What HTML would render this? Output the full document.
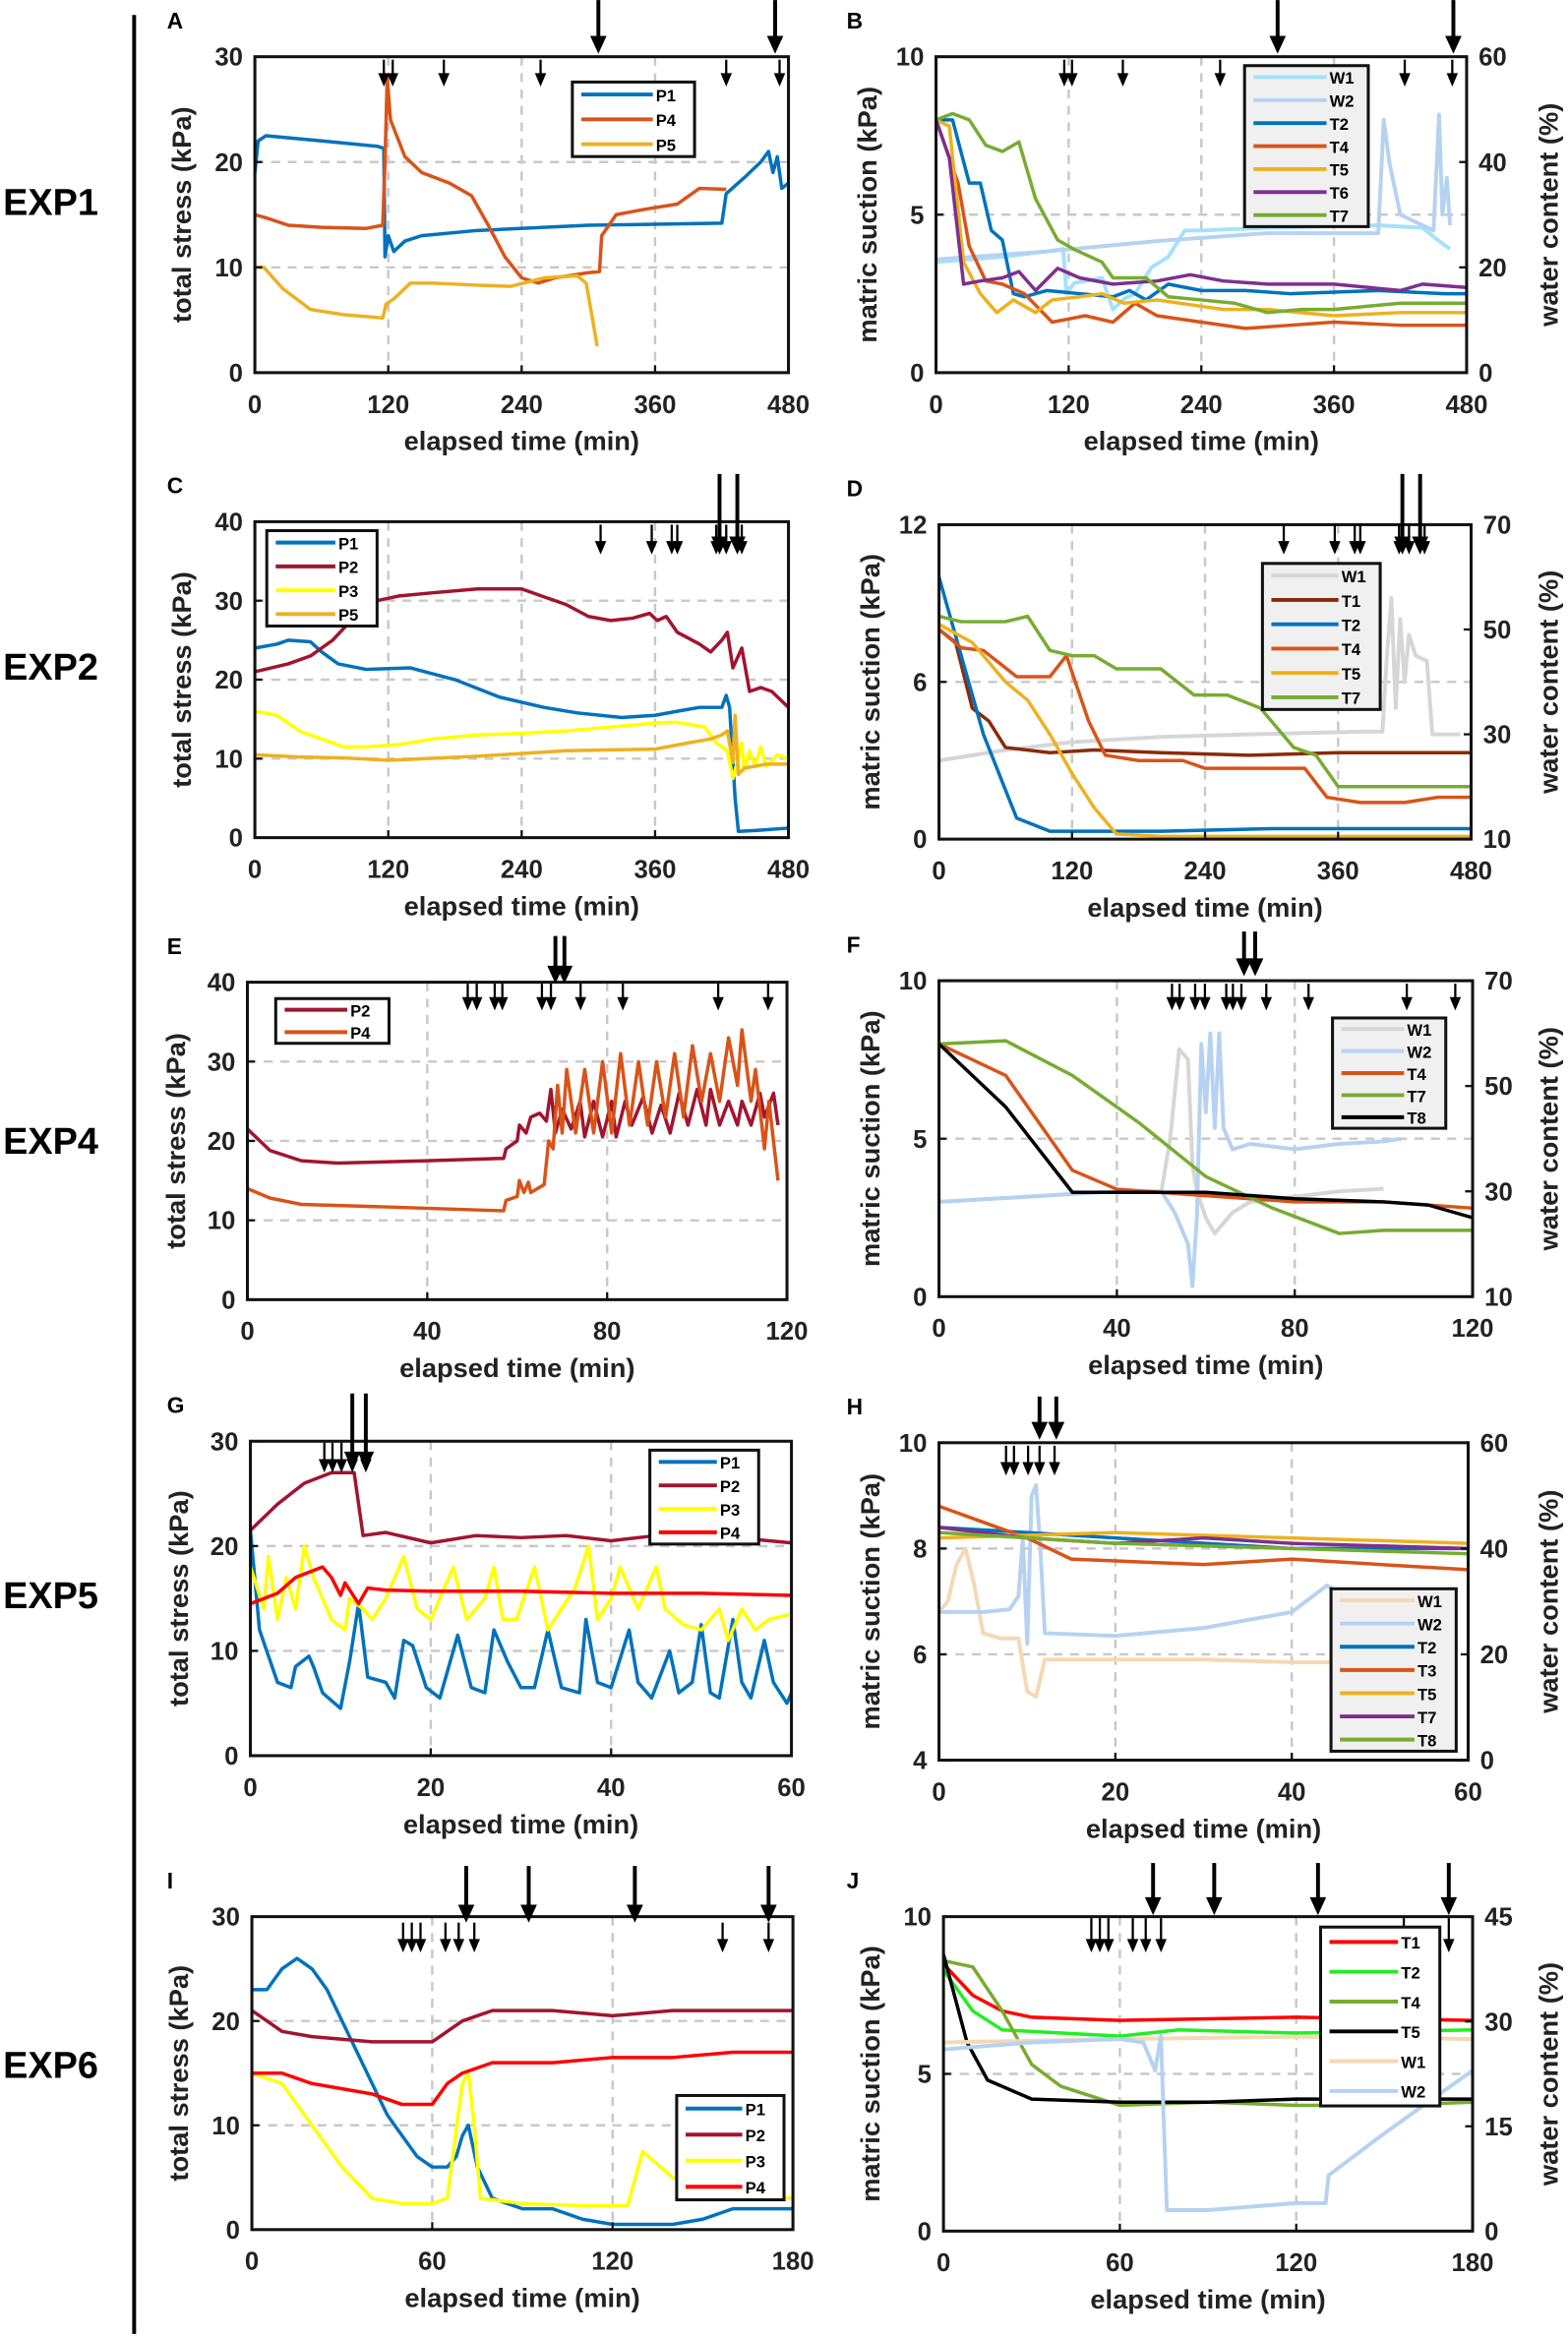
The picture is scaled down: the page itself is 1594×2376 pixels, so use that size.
<!DOCTYPE html>
<html><head><meta charset="utf-8"><style>
html,body{margin:0;padding:0;background:#fff;}
svg{display:block;font-family:"Liberation Sans",Arial,sans-serif;}
</style></head><body>
<svg id="fig" width="1594" height="2376" viewBox="0 0 1052 1568" xmlns="http://www.w3.org/2000/svg">
<line x1="90" y1="10" x2="90" y2="1566" stroke="#000" stroke-width="2.6"/>
<text x="34" y="144" font-size="25" font-weight="bold" text-anchor="middle">EXP1</text>
<text x="34" y="456" font-size="25" font-weight="bold" text-anchor="middle">EXP2</text>
<text x="34" y="774" font-size="25" font-weight="bold" text-anchor="middle">EXP4</text>
<text x="34" y="1079" font-size="25" font-weight="bold" text-anchor="middle">EXP5</text>
<text x="34" y="1394" font-size="25" font-weight="bold" text-anchor="middle">EXP6</text>
</svg>
<script>
// ---------- DATA ----------
// Panel A (EXP1 total stress)
const A_P1=[[0,19],[3,22],[10,22.5],[30,22.3],[60,22],[110,21.5],[116,21.3],[117,11],[120,13],[125,11.5],[135,12.5],[150,13],[200,13.5],[300,14],[420,14.2],[424,17],[440,18.5],[455,20],[462,21],[466,19],[470,20.5],[474,17.5],[480,18]];
const A_P4=[[0,15],[10,14.7],[30,14],[60,13.8],[100,13.7],[115,14],[117,20],[119,28],[122,24],[135,20.5],[150,19],[175,18],[195,16.8],[210,14],[225,11],[240,9],[255,8.5],[270,9],[300,9.5],[310,9.6],[312,13],[325,15],[350,15.5],[380,16],[400,17.5],[424,17.4]];
const A_P5=[[0,10],[8,10],[25,8],[50,6],[80,5.5],[115,5.2],[118,6.5],[125,7],[140,8.5],[160,8.5],[200,8.3],[230,8.2],[260,9],[290,9.2],[298,8.5],[303,5.5],[308,2.5]];
const A_small=[116,124,170,257,424,472];
const A_big=[309,468];
// Panel B (EXP1 suction / water content)
const B_W1=[[0,21],[60,22],[100,23],[115,23.5],[118,15],[125,17],[150,18],[160,12],[170,14],[180,15],[195,20],[210,22],[225,27],[240,27],[300,27.5],[360,27.8],[400,28],[440,27.5],[455,25],[465,23.5]];
const B_W2=[[0,21.5],[100,23],[200,25],[300,26.5],[400,26.5],[405,48],[410,40],[420,30],[440,28],[450,27],[455,49],[458,30],[462,37],[465,28]];
const B_T2=[[0,8],[15,8],[30,6],[40,6],[50,4.5],[60,4.2],[70,2.5],[80,2.4],[100,2.6],[130,2.5],[160,2.4],[175,2.6],[190,2.3],[210,2.8],[240,2.6],[280,2.6],[320,2.5],[400,2.6],[460,2.5],[480,2.5]];
const B_T4=[[0,8],[10,7],[20,6],[30,4],[45,2.9],[60,2.8],[80,2.5],[105,1.6],[120,1.7],[135,1.8],[160,1.6],[180,2.2],[200,1.8],[240,1.6],[280,1.4],[320,1.5],[360,1.6],[420,1.5],[480,1.5]];
const B_T5=[[0,8],[12,7.8],[25,3.5],[40,2.5],[55,1.9],[70,2.3],[90,1.9],[105,2.3],[130,2.4],[150,2.5],[170,2.2],[200,2.3],[260,2],[300,2],[360,1.8],[420,1.9],[480,1.9]];
const B_T6=[[0,8],[12,6.8],[25,2.8],[40,2.9],[60,3],[75,3.2],[90,2.6],[110,3.3],[130,3],[160,2.8],[200,2.9],[230,3.1],[260,2.9],[300,2.8],[360,2.8],[420,2.6],[440,2.8],[480,2.7]];
const B_T7=[[0,8],[15,8.2],[30,8],[45,7.2],[60,7],[75,7.3],[90,5.5],[110,4.2],[125,3.9],[150,3.5],[160,3],[190,3],[210,2.4],[240,2.3],[270,2.2],[300,1.9],[330,2],[360,2],[420,2.2],[480,2.2]];
const B_small=[116,123,169,257,424,467];
const B_big=[309,468];
// Panel C (EXP2 total stress)
const C_P1=[[0,24],[20,24.5],[30,25],[50,24.8],[60,23.5],[75,22],[100,21.3],[140,21.5],[180,20],[220,17.8],[260,16.5],[290,15.8],[330,15.2],[360,15.5],[380,16],[400,16.5],[420,16.5],[424,18],[427,16.5],[432,5],[435,0.8],[450,0.9],[480,1.2]];
const C_P2=[[0,21],[30,22],[50,23],[70,25],[90,28],[110,30],[130,30.6],[160,31],[200,31.5],[240,31.5],[260,30.5],[280,29.5],[300,28],[320,27.5],[340,27.8],[355,28.4],[362,27.5],[370,28],[380,26],[400,24.5],[410,23.5],[420,25],[425,26],[430,21.5],[438,24],[445,18.5],[455,19],[465,18.5],[480,16.5]];
const C_P3=[[0,16],[20,15.5],[40,13.5],[60,12.5],[80,11.5],[100,11.5],[130,11.8],[160,12.5],[200,13],[240,13.2],[280,13.5],[320,14],[360,14.5],[380,14.6],[405,14],[415,12],[425,11],[430,7.5],[435,10],[438,12],[440,8.5],[445,11],[450,9],[455,11.5],[460,9],[470,10.5],[480,10]];
const C_P5=[[0,10.5],[40,10.2],[80,10.1],[120,9.8],[200,10.3],[280,11],[360,11.2],[390,12],[410,12.5],[420,13],[425,13.5],[430,9.5],[432,15.5],[435,8],[440,8.8],[460,9.3],[480,9.3]];
const C_small=[311,357,375,380,415,424,438];
const C_big=[418,434];
// Panel D (EXP2 suction / water content)
const D_W1=[[0,25],[60,27],[120,28.5],[200,29.5],[280,30],[380,30.5],[400,30.5],[404,45],[408,56],[412,35],[416,52],[420,40],[424,49],[430,45],[440,44],[445,30],[460,30],[470,30]];
const D_T1=[[0,8],[15,7.5],[30,5],[45,4.5],[60,3.5],[100,3.3],[140,3.4],[200,3.3],[280,3.2],[360,3.3],[420,3.3],[480,3.3]];
const D_T2=[[0,10],[20,7],[40,4],[70,0.8],[100,0.3],[120,0.3],[200,0.3],[300,0.4],[400,0.4],[480,0.4]];
const D_T4=[[0,8],[20,7.3],[40,7.2],[70,6.2],[100,6.2],[115,7],[135,4.5],[150,3.2],[180,3],[220,3],[240,2.7],[270,2.7],[300,2.7],[330,2.7],[350,1.6],[380,1.4],[420,1.4],[450,1.6],[480,1.6]];
const D_T5=[[0,8.2],[30,7.5],[60,6],[80,5.3],[100,4],[120,2.5],[140,1.2],[160,0.2],[200,0.1],[480,0.1]];
const D_T7=[[0,8.5],[20,8.3],[60,8.3],[80,8.5],[100,7.2],[120,7],[140,7],[160,6.5],[200,6.5],[230,5.5],[260,5.5],[290,5],[320,3.5],[340,3.2],[360,2],[400,2],[440,2],[480,2]];
const D_small=[311,357,375,380,415,424,438];
const D_big=[418,434];
// Panel E (EXP4 total stress)
const E_P2=[[0,21.5],[5,18.8],[12,17.5],[20,17.2],[40,17.5],[57,17.8],[57.5,19],[60,20],[60.5,22],[62,21],[63,23],[65,23.5],[66.5,22.5],[67.5,26.5],[68.5,21],[70,24],[72,21.5],[74,25],[75,20.5],[77,25],[79,20.5],[81,25],[82,20.5],[84,25],[85.5,22],[88,25.5],[90,21],[92,24.5],[94,21],[96,26],[98,22],[100,26.5],[102,22],[103,26.5],[105,22],[107,25],[109,22],[110,25],[112,22],[114,26],[115,23],[117,26],[118,22]];
const E_P4=[[0,14],[5,12.8],[12,12],[30,11.7],[57,11.2],[57.5,12.5],[60,13],[60.5,15],[61.5,13.5],[62.5,14.8],[63,13.5],[66,14.5],[67,20],[68,19],[69,27],[70,21],[71,29],[73,21],[75,29],[77,21],[79,30],[81,21],[83,31],[85,22],[87,30],[89,22],[91,30],[93,23],[95,31],[97,23],[99,32],[101,25],[103,31],[105,25],[107,33],[109,27],[110,34],[112,25],[113,29],[115,19],[116,25],[118,15]];
const E_small=[49,51,55,56.7,65.5,67.5,74.1,83.5,104.7,115.8];
const E_big=[68.5,70.5];
// Panel F (EXP4 suction / water content)
const F_W1=[[0,28],[20,29],[40,30],[50,30],[52,40],[54,57],[56,55],[57,35],[58,30],[60,25],[62,22],[66,26],[70,28],[80,29],[90,30],[100,30.5]];
const F_W2=[[0,28],[20,29],[40,30],[50,30],[53,26],[56,20],[57,12],[58,25],[59,58],[60,45],[61,60],[62,42],[63,60],[64,42],[66,38],[70,39],[80,38],[90,39],[100,39.5],[104,40]];
const F_T4=[[0,8],[15,7],[30,4],[40,3.4],[60,3.2],[80,3],[100,3],[120,2.8]];
const F_T7=[[0,8],[15,8.1],[30,7],[45,5.5],[60,3.8],[75,2.8],[90,2],[100,2.1],[120,2.1]];
const F_T8=[[0,8],[15,6],[30,3.3],[40,3.3],[60,3.3],[80,3.1],[100,3],[110,2.9],[120,2.5]];
const F_small=[52.4,54.1,57.6,59.8,64.6,66.1,68,73.6,83.1,105.2,116.1];
const F_big=[68.6,71.1];
// Panel G (EXP5 total stress)
const G_P1=[[0,21.5],[1,12],[3,7],[4.5,6.5],[5,8.5],[6.5,9.5],[7,8.5],[8,6],[10,4.5],[11,9],[12,14.5],[13,7.5],[15,7],[16,5.5],[17,11],[18,10.5],[19.5,6.5],[21,5.5],[23,11.5],[24.5,6.5],[26,6],[27,12],[28.5,9],[30,6.5],[31.5,6.5],[33,12],[34.5,6.5],[36.5,6],[37.2,13],[38.5,7],[40,6.5],[42,12],[43,7],[44.5,5.5],[46.5,10],[47.5,6],[49,7],[50,12.5],[51,6],[52,5.5],[53.5,13],[54.5,7],[55.5,5.5],[57,11],[58,7],[59.5,5],[60,6]];
const G_P2=[[0,21.5],[3,24],[6,26],[9,27],[11.5,27],[12.5,21],[15,21.3],[20,20.3],[25,21],[30,20.8],[35,21],[40,20.5],[45,21],[50,20.6],[55,20.7],[60,20.3]];
const G_P3=[[0,18],[1.5,14],[2,19],[3,13],[4,17],[5,14],[6,20],[7,17],[8,15],[9,13],[10.5,12],[11,15],[12.5,14],[13.5,13],[15,15],[17,19],[18.5,14],[20,13],[21,15],[22.5,18],[24,13],[26,15],[27,18],[28,13],[29.5,13],[31.5,18],[33,12],[34.5,14],[36,16],[37.5,20],[38.5,13],[40,15],[41,18],[43,14],[45,18],[46,14],[48,12.5],[50,12],[52,14],[53,11],[54.5,14],[56,12],[57.5,13],[60,13.5]];
const G_P4=[[0,14.5],[3,15.5],[5,17],[8,18],[9,17],[10,15.3],[10.5,16.5],[12,14.5],[13,16],[15,15.8],[20,15.7],[30,15.7],[40,15.5],[50,15.5],[60,15.3]];
const G_small=[8.2,9.1,10.1,11.3,12.8];
const G_big=[11.3,12.8];
// Panel H (EXP5 suction / water content)
const H_W1=[[0,28],[1,30],[2,37],[3,40],[4,33],[5,24],[7,23],[9,23],[10,13],[11,12],[12,19],[20,19],[30,19],[40,18.5],[45,18.5]];
const H_W2=[[0,28],[5,28],[8,28.5],[9,31],[9.5,42],[10,22],[10.5,50],[11,52],[11.5,40],[12,24],[20,23.5],[30,25],[40,28],[44,33],[46,31]];
const H_T2=[[0,8.4],[10,8.3],[20,8.2],[40,8],[60,8]];
const H_T3=[[0,8.8],[5,8.5],[10,8.2],[15,7.8],[30,7.7],[40,7.8],[50,7.7],[60,7.6]];
const H_T5=[[0,8.2],[20,8.3],[40,8.2],[60,8.1]];
const H_T7=[[0,8.4],[10,8.2],[20,8.1],[30,8.2],[40,8.1],[60,8]];
const H_T8=[[0,8.3],[20,8.1],[40,8],[60,7.9]];
const H_small=[7.6,8.5,10.1,11.4,13.1];
const H_big=[11.4,13.3];
// Panel I (EXP6 total stress)
const I_P1=[[0,23],[5,23],[10,25],[15,26],[20,25],[25,23],[30,20],[35,17],[40,14],[45,11],[50,9],[55,7],[60,6],[65,6],[68,7],[70,9],[72,10],[75,6],[80,3],[90,2],[100,2],[110,1],[120,0.5],[140,0.5],[150,1],[160,2],[180,2]];
const I_P2=[[0,21],[10,19],[20,18.5],[40,18],[55,18],[60,18],[65,19],[70,20],[80,21],[100,21],[120,20.5],[140,21],[180,21]];
const I_P3=[[0,15],[10,14],[20,10],[30,6],[40,3],[50,2.5],[60,2.5],[65,3],[70,14],[72,15],[74,10],[76,3],[90,2.5],[110,2.3],[125,2.3],[130,7.5],[140,5],[150,4],[160,3.5],[180,3]];
const I_P4=[[0,15],[10,15],[20,14],[30,13.5],[40,13],[50,12],[60,12],[65,14],[70,15],[80,16],[100,16],[120,16.5],[140,16.5],[160,17],[180,17]];
const I_small=[50.3,53.2,56.1,64.4,68.8,74,156.6,171.9];
const I_big=[71.3,92.1,127.4,171.9];
// Panel J (EXP6 suction / water content)
const J_T1=[[0,8.5],[10,7.5],[20,7],[30,6.8],[60,6.7],[120,6.8],[180,6.7]];
const J_T2=[[0,8.3],[10,7],[20,6.4],[60,6.2],[80,6.4],[120,6.3],[180,6.4]];
const J_T4=[[0,8.6],[10,8.4],[20,7],[30,5.3],[40,4.6],[60,4],[90,4.1],[120,4],[150,4],[180,4.1]];
const J_T5=[[0,8.8],[8,6],[15,4.8],[30,4.2],[60,4.1],[90,4.1],[120,4.2],[180,4.2]];
const J_W1=[[0,27],[60,27.5],[120,27.8],[180,27.5]];
const J_W2=[[0,26],[30,27],[60,27.5],[68,27],[72,23],[74,28],[75,15],[76,3],[90,3],[120,4],[130,4],[131,8],[150,14],[170,20],[180,23]];
const J_small=[50.3,53.2,56.1,64.4,68.8,74,156.6,171.9];
const J_big=[71.3,92.1,127.4,171.9];

// ---------- DRAWING ----------
const NS='http://www.w3.org/2000/svg';
const svg=document.getElementById('fig');
function mk(tag,attrs,parent){const e=document.createElementNS(NS,tag);for(const k in attrs)e.setAttribute(k,attrs[k]);(parent||svg).appendChild(e);return e;}

const C={blue:'#0072bd',orange:'#d95319',gold:'#edb120',yellow:'#ffff00',dred:'#a2142f',purple:'#7e2f8e',green:'#77ac30',red:'#ff0000',lime:'#22ee22',black:'#000',cyan:'#a4e2fb',lblue:'#b6d2f2',gray:'#d6d6d6',tan:'#f3d9b4'};

let clipId=0;
function panel(p){
  const g=mk('g',{});
  
  
  const sx=v=>p.b[0]+(v-p.xr[0])/(p.xr[1]-p.xr[0])*(p.b[2]-p.b[0]);
  const syL=v=>p.b[3]-(v-p.yl[0])/(p.yl[1]-p.yl[0])*(p.b[3]-p.b[1]);
  const syR=p.yr?(v=>p.b[3]-(v-p.yr[0])/(p.yr[1]-p.yr[0])*(p.b[3]-p.b[1])):syL;
  // letter
  const lt=mk('text',{x:p.lx,y:p.b[1]-19,'font-size':15,'font-weight':'bold'},g);
  lt.textContent=p.letter;
  
  
  // grid
  p.xt.forEach((t,i)=>{ if(i>0&&i<p.xt.length-1){
    const l=mk('line',{x1:sx(t),x2:sx(t),y1:p.b[1],y2:p.b[3],stroke:'#c8c8c8','stroke-width':1.6,'stroke-dasharray':'6,5'},g);
    
    
  }});
  p.ylt.forEach((t,i)=>{ if(i>0&&i<p.ylt.length-1){
    const l=mk('line',{x1:p.b[0],x2:p.b[2],y1:syL(t),y2:syL(t),stroke:'#c8c8c8','stroke-width':1.6,'stroke-dasharray':'6,5'},g);
    
    
  }});
  // clip
  clipId++;
  const cp=mk('clipPath',{id:'cp'+clipId},g);
  mk('rect',{x:p.b[0],y:p.b[1],width:p.b[2]-p.b[0],height:p.b[3]-p.b[1]},cp);
  const sg=mk('g',{'clip-path':'url(#cp'+clipId+')'},g);
  p.series.forEach(s=>{
    const fy=s.ax==='R'?syR:syL;
    const d=s.d.map((pt,i)=>(i?'L':'M')+sx(pt[0]).toFixed(1)+','+fy(pt[1]).toFixed(1)).join('');
    const path=mk('path',{d:d,fill:'none',stroke:s.c,'stroke-width':s.w||2.3,'stroke-linejoin':'round'},sg);
    
    
  });
  // box
  const box=mk('rect',{x:p.b[0],y:p.b[1],width:p.b[2]-p.b[0],height:p.b[3]-p.b[1],fill:'none',stroke:'#111','stroke-width':2},g);
  
  
  // x ticks
  p.xt.forEach(t=>{
    mk('line',{x1:sx(t),x2:sx(t),y1:p.b[3],y2:p.b[3]-5,stroke:'#111','stroke-width':1.5},g);
    const tx=mk('text',{x:sx(t),y:p.b[3]+27,'font-size':17,'font-weight':'bold','text-anchor':'middle',fill:'#222'},g);
    tx.textContent=t;
    
    
  });
  p.ylt.forEach(t=>{
    mk('line',{x1:p.b[0],x2:p.b[0]+5,y1:syL(t),y2:syL(t),stroke:'#111','stroke-width':1.5},g);
    const tx=mk('text',{x:p.b[0]-8,y:syL(t)+6,'font-size':17,'font-weight':'bold','text-anchor':'end',fill:'#222'},g);
    tx.textContent=t;
    
    
  });
  if(p.yr){p.yrt.forEach(t=>{
    mk('line',{x1:p.b[2],x2:p.b[2]-5,y1:syR(t),y2:syR(t),stroke:'#111','stroke-width':1.5},g);
    const tx=mk('text',{x:p.b[2]+8,y:syR(t)+6,'font-size':17,'font-weight':'bold','text-anchor':'start',fill:'#222'},g);
    tx.textContent=t;
    
    
  });}
  // titles
  const xtl=mk('text',{x:(p.b[0]+p.b[2])/2,y:p.b[3]+52,'font-size':18,'font-weight':'bold','text-anchor':'middle',fill:'#222'},g);
  xtl.textContent='elapsed time (min)';
  
  
  const ycx=p.ytx, ycy=(p.b[1]+p.b[3])/2;
  const ytl=mk('text',{x:ycx,y:ycy,'font-size':18,'font-weight':'bold','text-anchor':'middle',transform:'rotate(-90 '+ycx+' '+ycy+')',fill:'#222'},g);
  ytl.textContent=p.ylab;
  
  
  if(p.yr){
    const rx=1045;
    const rtl=mk('text',{x:rx,y:ycy,'font-size':18,'font-weight':'bold','text-anchor':'middle',transform:'rotate(-90 '+rx+' '+ycy+')',fill:'#222'},g);
    rtl.textContent='water content (%)';
    
    
  }
  // arrows
  function arrow(t,y1,y2,big){
    const x=sx(t);
    const ag=mk('g',{},g);
    
    
    const hw=big?5.5:3.8, hh=big?12:9;
    mk('line',{x1:x,x2:x,y1:y1,y2:y2-hh+1,stroke:'#000','stroke-width':big?2.6:1.5},ag);
    mk('path',{d:`M${x-hw},${y2-hh}L${x+hw},${y2-hh}L${x},${y2}Z`,fill:'#000'},ag);
  }
  p.small.forEach(t=>arrow(t,p.as[0],p.as[1],false));
  p.big.forEach(t=>arrow(t,p.ab[0],p.ab[1],true));
  // legend
  const L=p.leg;
  const lg=mk('g',{},g);
  
  
  mk('rect',{x:L.x,y:L.y,width:L.w,height:L.h,fill:L.bg||'#fff',stroke:'#111','stroke-width':2},lg);
  const rh=L.h/p.series.length;
  const order=L.order||p.series;
  order.forEach((s,i)=>{
    const cy=L.y+rh*(i+0.5);
    const e=mk('g',{},lg);
    
    
    mk('line',{x1:L.x+6,x2:L.x+L.w-28,y1:cy,y2:cy,stroke:s.c,'stroke-width':2.6},e);
    const tt=mk('text',{x:L.x+L.w-26,y:cy+4.5,'font-size':L.fs||12.5,'font-weight':'bold'},e);
    tt.textContent=s.n;
  });
}

const xl=[171,529], xr=[628,987];
panel({letter:'A',lx:112,b:[xl[0],38,xl[1],250],xr:[0,480],xt:[0,120,240,360,480],yl:[0,30],ylt:[0,10,20,30],ytx:128,ylab:'total stress (kPa)',
  series:[{n:'P1',c:C.blue,d:A_P1},{n:'P4',c:C.orange,d:A_P4},{n:'P5',c:C.gold,d:A_P5}],
  small:A_small,big:A_big,as:[40,58],ab:[0,36],leg:{x:384,y:55,w:82,h:50,fs:11}});
panel({letter:'B',lx:568,b:[xr[0],38,984,250],xr:[0,480],xt:[0,120,240,360,480],yl:[0,10],ylt:[0,5,10],yr:[0,60],yrt:[0,20,40,60],ytx:588,ylab:'matric suction (kPa)',
  series:[{n:'W1',c:C.cyan,d:B_W1,ax:'R',w:2.6},{n:'W2',c:C.lblue,d:B_W2,ax:'R',w:2.6},{n:'T2',c:C.blue,d:B_T2},{n:'T4',c:C.orange,d:B_T4},{n:'T5',c:C.gold,d:B_T5},{n:'T6',c:C.purple,d:B_T6},{n:'T7',c:C.green,d:B_T7}],
  small:B_small,big:B_big,as:[40,58],ab:[0,36],leg:{x:835,y:44,w:83,h:108,bg:'#f0f0f0',fs:11}});
panel({letter:'C',lx:112,b:[xl[0],350,xl[1],562],xr:[0,480],xt:[0,120,240,360,480],yl:[0,40],ylt:[0,10,20,30,40],ytx:128,ylab:'total stress (kPa)',
  series:[{n:'P1',c:C.blue,d:C_P1},{n:'P2',c:C.dred,d:C_P2},{n:'P3',c:C.yellow,d:C_P3},{n:'P5',c:C.gold,d:C_P5}],
  small:C_small,big:C_big,as:[352,372],ab:[318,372],leg:{x:179,y:356,w:74,h:64,fs:11}});
panel({letter:'D',lx:568,b:[630,352,987,563],xr:[0,480],xt:[0,120,240,360,480],yl:[0,12],ylt:[0,6,12],yr:[10,70],yrt:[10,30,50,70],ytx:590,ylab:'matric suction (kPa)',
  series:[{n:'W1',c:C.gray,d:D_W1,ax:'R',w:2.6},{n:'T1',c:'#8a2a0a',d:D_T1},{n:'T2',c:C.blue,d:D_T2},{n:'T4',c:C.orange,d:D_T4},{n:'T5',c:C.gold,d:D_T5},{n:'T7',c:C.green,d:D_T7}],
  small:D_small,big:D_big,as:[352,372],ab:[318,372],leg:{x:847,y:378,w:79,h:98,bg:'#f0f0f0',fs:11}});
panel({letter:'E',lx:112,b:[166,659,528,872],xr:[0,120],xt:[0,40,80,120],yl:[0,40],ylt:[0,10,20,30,40],ytx:124,ylab:'total stress (kPa)',
  series:[{n:'P2',c:C.dred,d:E_P2},{n:'P4',c:C.orange,d:E_P4}],
  small:E_small,big:E_big,as:[660,678],ab:[628,660],leg:{x:185,y:670,w:76,h:30,fs:11}});
panel({letter:'F',lx:568,b:[630,658,988,870],xr:[0,120],xt:[0,40,80,120],yl:[0,10],ylt:[0,5,10],yr:[10,70],yrt:[10,30,50,70],ytx:590,ylab:'matric suction (kPa)',
  series:[{n:'W1',c:C.gray,d:F_W1,ax:'R',w:2.6},{n:'W2',c:C.lblue,d:F_W2,ax:'R',w:2.6},{n:'T4',c:C.orange,d:F_T4},{n:'T7',c:C.green,d:F_T7},{n:'T8',c:C.black,d:F_T8}],
  small:F_small,big:F_big,as:[660,678],ab:[625,655],leg:{x:894,y:683,w:76,h:74,bg:'#f0f0f0',fs:11}});
panel({letter:'G',lx:112,b:[168,967,531,1178],xr:[0,60],xt:[0,20,40,60],yl:[0,30],ylt:[0,10,20,30],ytx:126,ylab:'total stress (kPa)',
  series:[{n:'P1',c:C.blue,d:G_P1},{n:'P2',c:C.dred,d:G_P2},{n:'P3',c:C.yellow,d:G_P3},{n:'P4',c:C.red,d:G_P4}],
  small:G_small,big:G_big,as:[968,988],ab:[935,986],leg:{x:436,y:973,w:73,h:63,fs:11}});
panel({letter:'H',lx:568,b:[630,968,985,1181],xr:[0,60],xt:[0,20,40,60],yl:[4,10],ylt:[4,6,8,10],yr:[0,60],yrt:[0,20,40,60],ytx:590,ylab:'matric suction (kPa)',
  series:[{n:'W1',c:C.tan,d:H_W1,ax:'R',w:2.6},{n:'W2',c:C.lblue,d:H_W2,ax:'R',w:2.6},{n:'T2',c:C.blue,d:H_T2},{n:'T3',c:C.orange,d:H_T3},{n:'T5',c:C.gold,d:H_T5},{n:'T7',c:C.purple,d:H_T7},{n:'T8',c:C.green,d:H_T8}],
  small:H_small,big:H_big,as:[970,990],ab:[937,966],leg:{x:893,y:1066,w:84,h:109,bg:'#f0f0f0',fs:11}});
panel({letter:'I',lx:112,b:[169,1286,532,1496],xr:[0,180],xt:[0,60,120,180],yl:[0,30],ylt:[0,10,20,30],ytx:126,ylab:'total stress (kPa)',
  series:[{n:'P1',c:C.blue,d:I_P1},{n:'P2',c:C.dred,d:I_P2},{n:'P3',c:C.yellow,d:I_P3},{n:'P4',c:C.red,d:I_P4}],
  small:I_small,big:I_big,as:[1290,1310],ab:[1252,1290],leg:{x:454,y:1406,w:72,h:70,fs:11}});
panel({letter:'J',lx:568,b:[633,1286,988,1497],xr:[0,180],xt:[0,60,120,180],yl:[0,10],ylt:[0,5,10],yr:[0,45],yrt:[0,15,30,45],ytx:590,ylab:'matric suction (kPa)',
  series:[{n:'T1',c:C.red,d:J_T1},{n:'T2',c:C.lime,d:J_T2},{n:'T4',c:C.green,d:J_T4},{n:'T5',c:C.black,d:J_T5},{n:'W1',c:C.tan,d:J_W1,ax:'R',w:2.6},{n:'W2',c:C.lblue,d:J_W2,ax:'R',w:2.6}],
  small:J_small,big:J_big,as:[1287,1310],ab:[1250,1285],leg:{x:886,y:1293,w:80,h:120,fs:11}});
</script>
</body></html>
